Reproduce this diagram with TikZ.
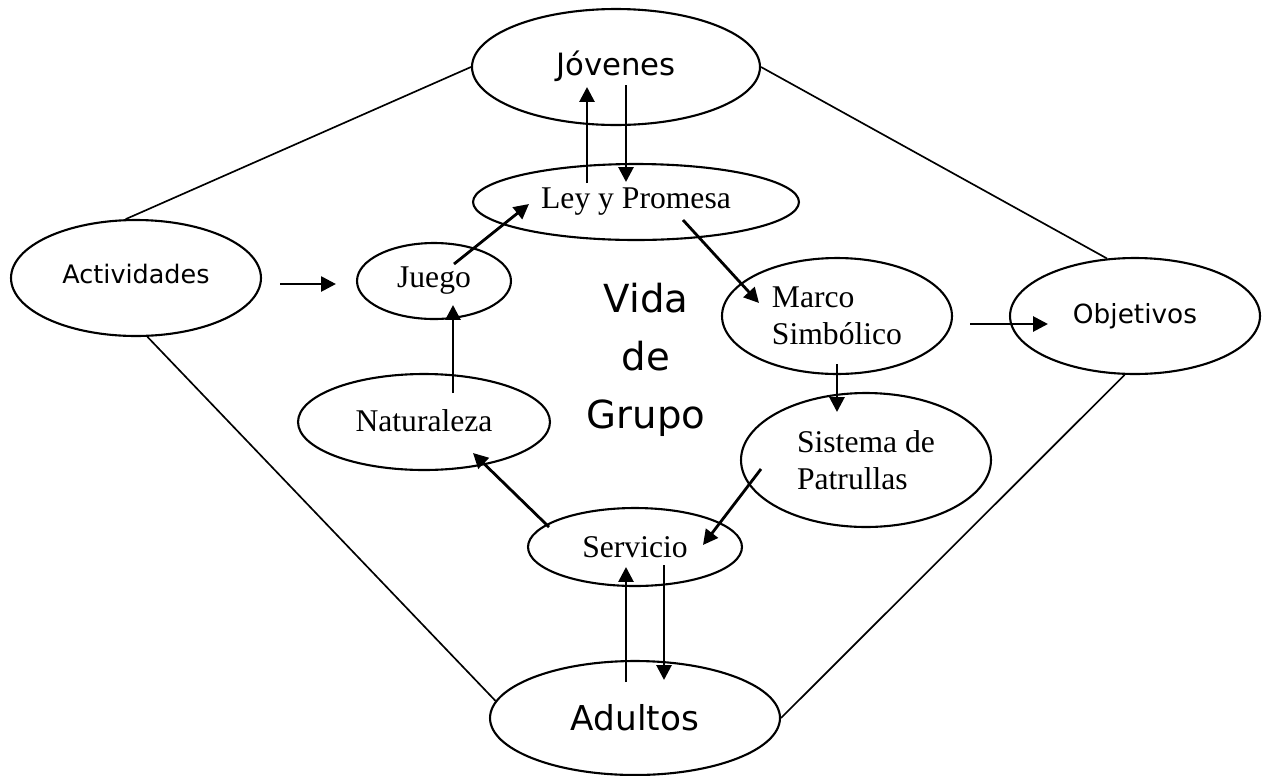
\documentclass[tikz,border=0pt]{standalone}
\usepackage{fontspec}
\setmainfont{Liberation Serif}
\newfontfamily\comic{DejaVu Sans}
\usetikzlibrary{shapes.geometric, arrows.meta, calc}

\begin{document}
\begin{tikzpicture}[x=0.02cm, y=-0.02cm,
    elipse/.style={draw, ellipse, line width=1.2pt, inner sep=0pt},
    romana/.style={font=\fontsize{18}{21}\selectfont, align=left},
    flecha/.style={line width=1.6pt, -{Triangle[length=8.5pt, width=8.5pt]}},
    lado/.style={line width=0.95pt}]

    \useasboundingbox (0,0) rectangle (1265,775);

    % elipses
    \node [elipse, minimum width=5.76cm, minimum height=2.32cm, font=\comic\fontsize{17.5}{20}\selectfont] (jovenes) at (616,67) {\raisebox{4pt}{Jóvenes}};
    \node [elipse, romana, minimum width=6.52cm, minimum height=1.52cm] (ley) at (636,202) {Ley y Promesa};
    \node [elipse, minimum width=5cm, minimum height=2.32cm, font=\comic\fontsize{14.5}{17}\selectfont] (act) at (136,278) {\raisebox{5pt}{Actividades}};
    \node [elipse, romana, minimum width=3.08cm, minimum height=1.52cm] (juego) at (434,281) {\raisebox{-2pt}{Juego}};
    \node [elipse, romana, minimum width=4.6cm, minimum height=2.32cm] (marco) at (837,316) {Marco\\Simbólico};
    \node [elipse, minimum width=5cm, minimum height=2.32cm, font=\comic\fontsize{15}{18}\selectfont] (obj) at (1135,316) {\raisebox{3pt}{Objetivos}};
    \node [elipse, romana, minimum width=5.04cm, minimum height=1.92cm] (nat) at (424,422) {\raisebox{2pt}{Naturaleza}};
    \node [elipse, romana, minimum width=5cm, minimum height=2.68cm] (sist) at (866,460) {Sistema de\\Patrullas};
    \node [elipse, romana, minimum width=4.28cm, minimum height=1.56cm] (serv) at (635,547) {Servicio};
    \node [elipse, minimum width=5.8cm, minimum height=2.28cm, font=\comic\fontsize{19.5}{22}\selectfont] (adultos) at (635,718) {Adultos};

    % centro
    \node [font=\comic\fontsize{22}{33}\selectfont, align=center] (vida) at (646,360) {Vida\\de\\Grupo};

    % lados
    \path[lado]
    (act.100) edge (jovenes.west)
    (jovenes.east) edge (obj.116)
    (act.-79) edge (adultos.173)
    (obj.-100) edge (adultos.east);

    % flechas
    \path[flecha]
    ($(ley.center)+(-49,-19)$) edge ($(jovenes.center)+(-29,20)$)
    ($(jovenes.center)+(10,18)$) edge ($(ley.center)+(-10,-20)$)
    ($(act.east)+(18,6)$) edge ($(juego.west)+(-20,3)$)
    ($(juego.center)+(20,-17)$) edge ($(ley.center)+(-107,2)$)
    ($(nat.center)+(29,-29)$) edge ($(juego.center)+(19,24)$)
    ($(ley.center)+(47,18)$) edge ($(marco.center)+(-78,-13)$)
    ($(marco.center)+(133,8)$) edge ($(obj.center)+(-87,8)$)
    ($(marco.center)+(0,48)$) edge ($(sist.center)+(-29,-48)$)
    ($(sist.center)+(-105,9)$) edge ($(serv.center)+(68,-2)$)
    ($(serv.center)+(-86,-20)$) edge ($(nat.center)+(49,31)$)
    ($(adultos.center)+(-9,-36)$) edge ($(serv.center)+(-9,20)$)
    ($(serv.center)+(29,18)$) edge ($(adultos.center)+(29,-38)$);
\end{tikzpicture}
\end{document}
